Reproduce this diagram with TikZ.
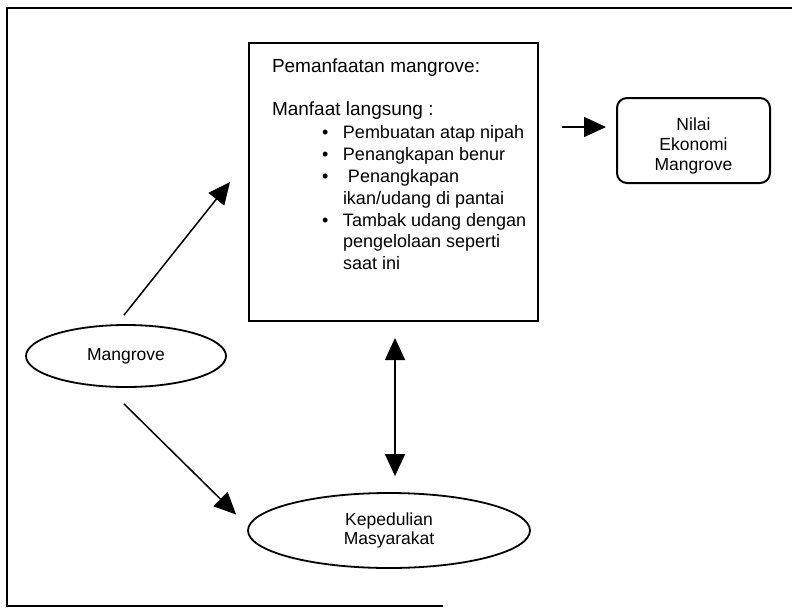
\documentclass[tikz,border=0pt]{standalone}
\usepackage{fontspec}
\setmainfont{Liberation Sans}
\usetikzlibrary{shapes.geometric, arrows.meta, positioning}

\begin{document}
\begin{tikzpicture}[
    x=1pt, y=-1pt,
    oval/.style={ellipse, draw, line width=1.8pt, inner sep=0pt, align=center, font=\fontsize{17.5}{19.5}\selectfont},
    mainbox/.style={rectangle, draw, line width=2pt, inner sep=0pt, font=\fontsize{18}{21.8}\selectfont},
    valuebox/.style={rectangle, draw, rounded corners=10pt, line width=2pt, minimum width=153pt, minimum height=85pt},
    valuetext/.style={align=center, font=\fontsize{17.5}{20}\selectfont},
    arrow/.style={-{Triangle[length=22pt,width=20pt]}, line width=1.5pt},
    darrow/.style={{Triangle[length=22pt,width=20pt]}-{Triangle[length=22pt,width=20pt]}, line width=1.5pt},
    frame/.style={line width=1.8pt}
]
\useasboundingbox (0,0) rectangle (792,608);

% Frame
\draw[frame] (443,606) -- (7,606) -- (7,8) -- (792,8);

% Nodes
\node[oval, minimum width=200pt, minimum height=62pt] (mangrove) at (126,356) {Mangrove};
\node[mainbox] (pemanfaatan) at (393.5,182) {%
  \begin{minipage}[c][278pt][t]{289pt}
  \leftskip=23pt \parindent=0pt
  \rule{0pt}{29pt}{\fontsize{19}{21.8}\selectfont Pemanfaatan mangrove:}\\[22pt]
  {\fontsize{19}{21.8}\selectfont Manfaat langsung :}\\[1.2pt]
  \hspace*{50pt}\makebox[21pt][l]{\textbullet}Pembuatan atap nipah\\
  \hspace*{50pt}\makebox[21pt][l]{\textbullet}Penangkapan benur\\
  \hspace*{50pt}\makebox[21pt][l]{\textbullet} Penangkapan\\
  \hspace*{71pt}ikan/udang di pantai\\
  \hspace*{50pt}\makebox[21pt][l]{\textbullet}Tambak udang dengan\\
  \hspace*{71pt}pengelolaan seperti\\
  \hspace*{71pt}saat ini
  \end{minipage}};
\node[valuebox, label={[valuetext, yshift=-5pt]center:Nilai\\Ekonomi\\Mangrove}] (nilai) at (693.5,140.5) {};
\node[oval, minimum width=282pt, minimum height=75pt] (kepedulian) at (389,530.5) {Kepedulian\\Masyarakat};

% Arrows
\draw[arrow] ([xshift=-2pt,yshift=9pt]mangrove.north) -- ([xshift=-18pt]pemanfaatan.west);
\draw[arrow] ([xshift=-2pt,yshift=-16pt]mangrove.south) -- ([xshift=-11pt,yshift=16pt]kepedulian.west);
\draw[darrow] ([xshift=1.5pt,yshift=-16pt]pemanfaatan.south) -- ([xshift=6pt,yshift=16pt]kepedulian.north);
\draw[arrow] ([xshift=-54pt,yshift=13.5pt]nilai.west) -- ([xshift=-10pt,yshift=13.5pt]nilai.west);

\end{tikzpicture}
\end{document}
